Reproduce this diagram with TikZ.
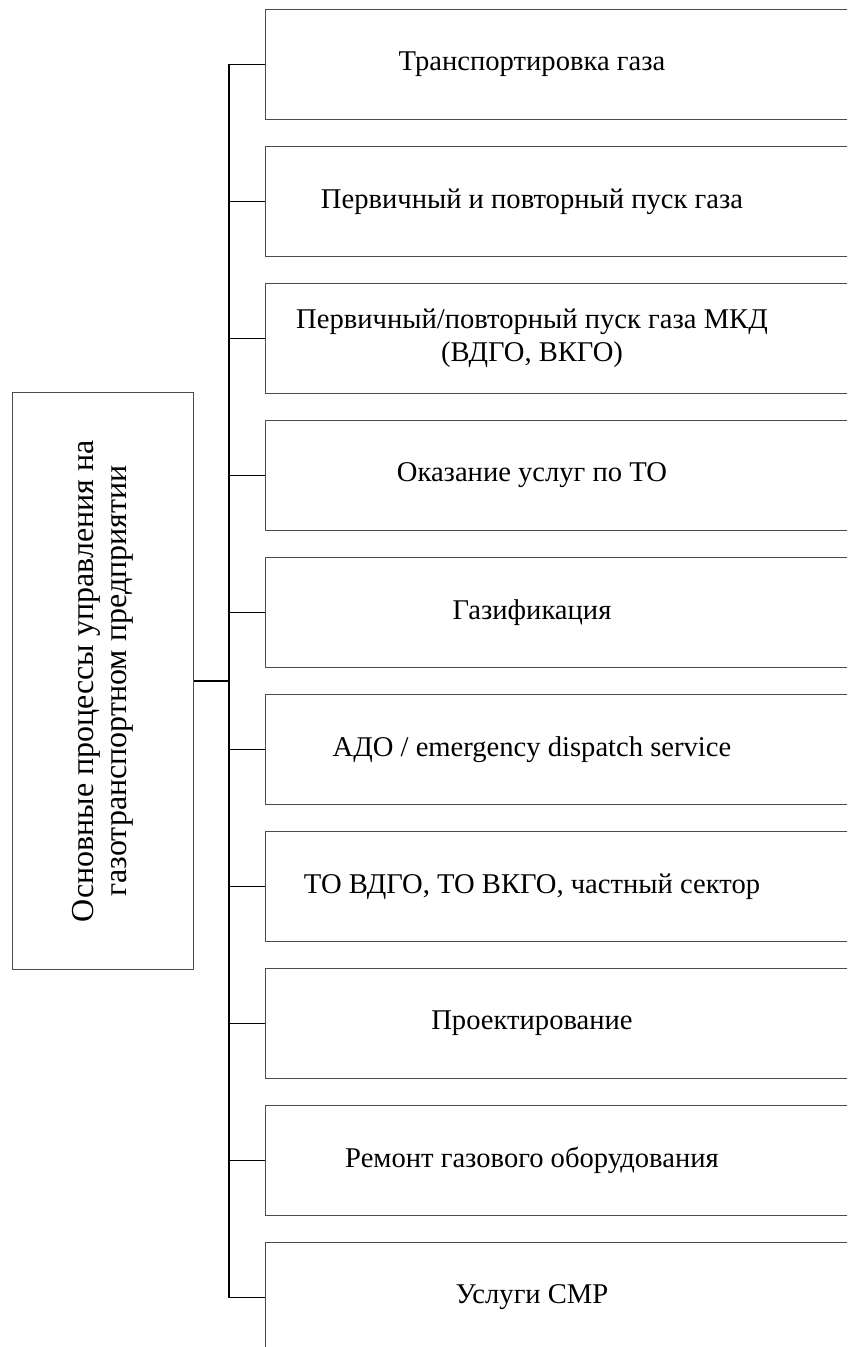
\documentclass[tikz,border=0pt]{standalone}
\usepackage{fontspec}
\setmainfont{Liberation Serif}
\begin{document}
\begin{tikzpicture}[x=0.5pt,y=-0.5pt,
    box/.style = {draw=black!70, line width=0.5pt},
    link/.style = {draw=black, line width=0.6pt},
    lbl/.style = {font=\fontsize{14.3}{16.5}\selectfont, align=center, inner sep=0pt}]
    \useasboundingbox (0,0) rectangle (847,1347);
    \clip (0,0) rectangle (847,1347);

    \node[box, lbl, font=\fontsize{16}{16.5}\selectfont, rotate=90,
        minimum width=288pt, minimum height=90.5pt]
        (main) at (102.5,681) {Основные процессы управления на\\газотранспортном предприятии};

    \coordinate (bustop) at (229,64.5);
    \coordinate (busbot) at (229,1297.5);
    \draw[link] (bustop) -- (busbot);
    \draw[link] (main.south) -- (main.south -| bustop);

    \foreach \name [count=\i from 0] in {Транспортировка газа,
            Первичный и повторный пуск газа,
            {Первичный/повторный пуск газа МКД\\(ВДГО, ВКГО)},
            Оказание услуг по ТО,
            Газификация,
            АДО / emergency dispatch service,
            {ТО ВДГО, ТО ВКГО, частный сектор},
            Проектирование,
            Ремонт газового оборудования,
            Услуги СМР}{
        \draw[box] (265,9.5+137*\i) rectangle (880,119.5+137*\i);
        \node[lbl] (proc\i) at (532,64.5+137*\i) {\name};
        \coordinate (in\i) at (265,64.5+137*\i);
        \draw[link] (in\i) -- (in\i -| bustop);
    }
\end{tikzpicture}
\end{document}
